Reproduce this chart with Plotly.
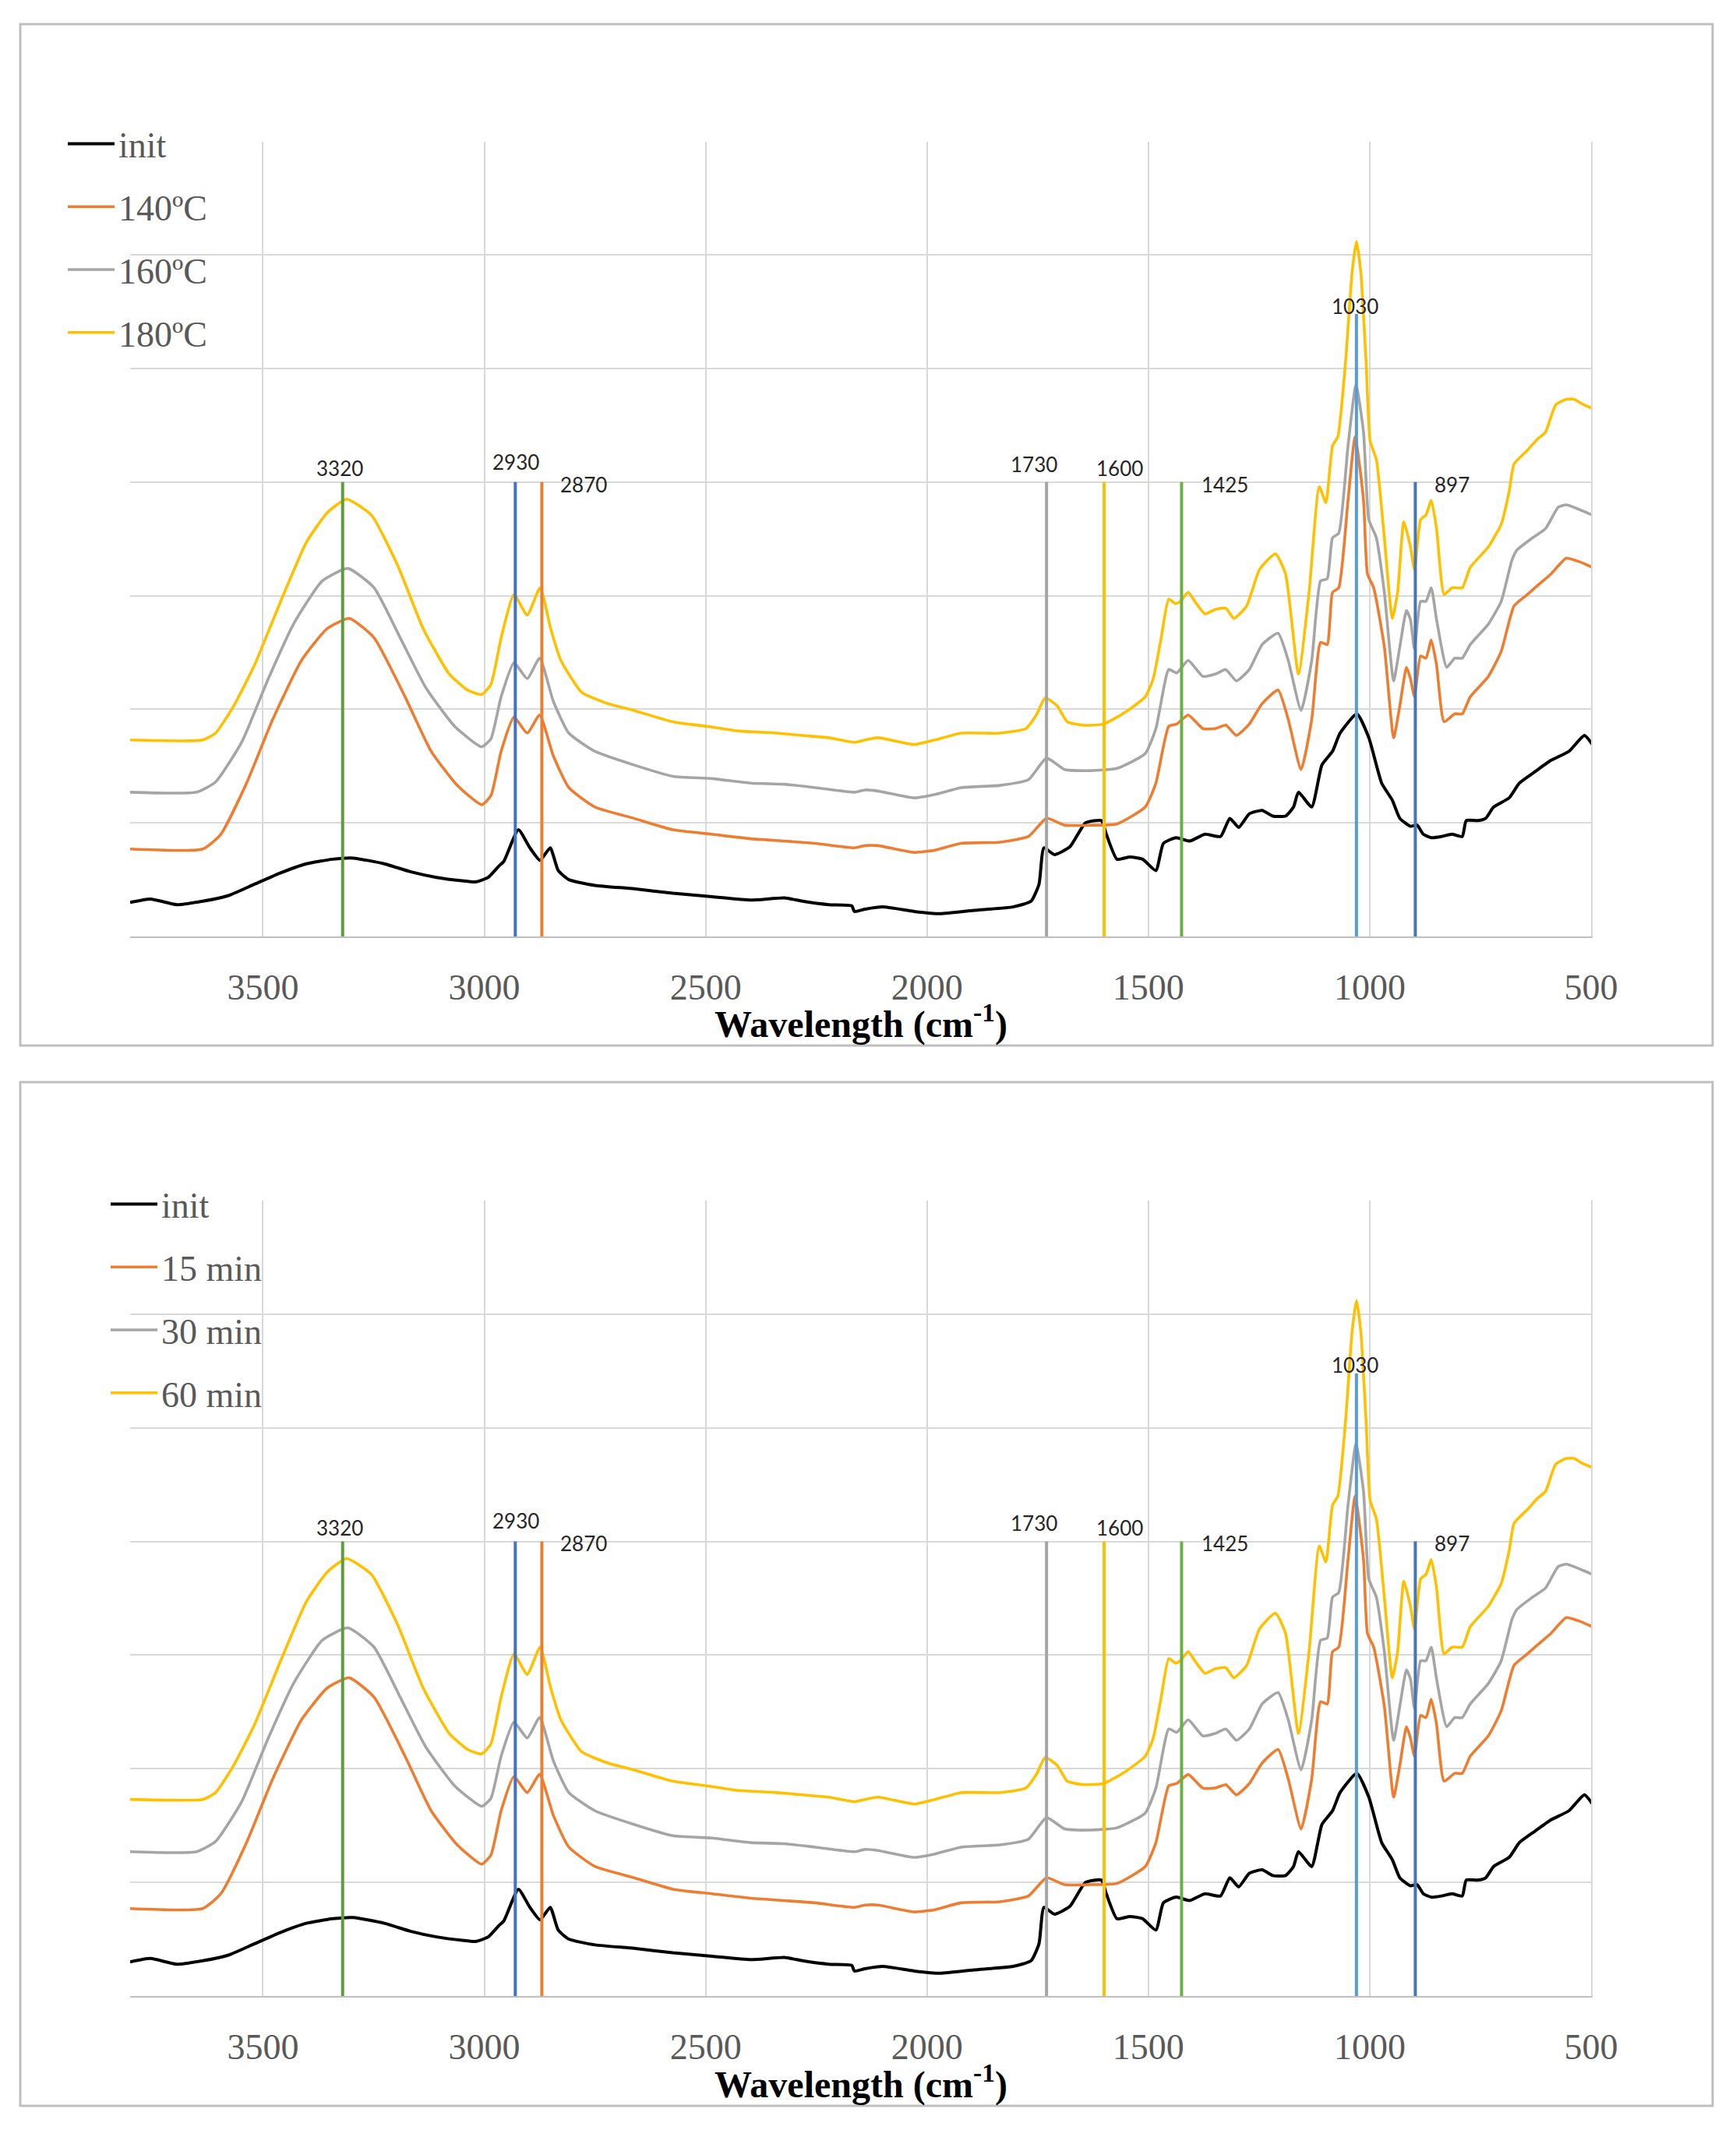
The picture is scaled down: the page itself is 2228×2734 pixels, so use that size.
import plotly.graph_objects as go

# ---------------- data (y in grid units) ----------------
wn_init = [3800, 3754, 3695, 3636, 3578, 3519, 3460, 3402, 3343, 3296, 3226, 3167, 3108, 3050, 3020,
           2991, 2967, 2956, 2923, 2897, 2874, 2851, 2833, 2809, 2750, 2662, 2574, 2485, 2398, 2322,
           2281, 2222, 2170, 2164, 2140, 2100, 2029, 1970, 1894, 1806, 1765, 1747, 1736, 1712, 1677,
           1642, 1606, 1595, 1571, 1542, 1513, 1483, 1466, 1437, 1407, 1372, 1337, 1316, 1296, 1272,
           1243, 1219, 1190, 1172, 1161, 1131, 1108, 1084, 1067, 1029, 1002, 973, 949, 932, 908,
           893, 879, 861, 838, 814, 791, 782, 756, 738, 720, 685, 662, 627, 591, 550, 515, 497]
val_init = [0.30, 0.33, 0.28, 0.31, 0.36, 0.46, 0.56, 0.64, 0.68, 0.69, 0.64, 0.57, 0.52, 0.49, 0.48,
            0.52, 0.62, 0.66, 0.94, 0.78, 0.67, 0.78, 0.58, 0.50, 0.45, 0.42, 0.38, 0.35, 0.32, 0.34,
            0.31, 0.28, 0.27, 0.22, 0.24, 0.26, 0.22, 0.20, 0.23, 0.26, 0.31, 0.46, 0.78, 0.72, 0.79,
            1.00, 1.02, 0.90, 0.68, 0.70, 0.68, 0.58, 0.82, 0.87, 0.84, 0.90, 0.88, 1.04, 0.96, 1.08,
            1.11, 1.06, 1.06, 1.14, 1.27, 1.14, 1.51, 1.63, 1.79, 1.96, 1.75, 1.35, 1.20, 1.04, 0.97,
            0.98, 0.90, 0.87, 0.88, 0.90, 0.88, 1.02, 1.02, 1.04, 1.14, 1.22, 1.35, 1.45, 1.55, 1.63, 1.77, 1.69]

wn_a = [3800, 3636, 3595, 3537, 3478, 3413, 3355, 3305, 3249, 3179, 3120, 3061, 3006, 2985, 2962,
        2933, 2903, 2875, 2844, 2809, 2750, 2662, 2574, 2486, 2398, 2322, 2252, 2164, 2140, 2111,
        2029, 1982, 1923, 1835, 1771, 1730, 1689, 1630, 1571, 1507, 1483, 1454, 1436, 1410, 1377,
        1349, 1325, 1301, 1272, 1243, 1207, 1184, 1155, 1131, 1111, 1096, 1084, 1070, 1049, 1033,
        1014, 1005, 991, 967, 946, 932, 917, 908, 899, 885, 873, 861, 849, 832, 808, 791, 773, 732,
        703, 674, 644, 615, 591, 556, 527, 497]
val_a = [0.77, 0.77, 0.90, 1.35, 1.91, 2.43, 2.71, 2.80, 2.63, 2.11, 1.63, 1.33, 1.16, 1.24, 1.63,
         1.93, 1.79, 1.95, 1.59, 1.31, 1.14, 1.04, 0.94, 0.90, 0.86, 0.84, 0.82, 0.78, 0.80, 0.80,
         0.74, 0.76, 0.82, 0.83, 0.88, 1.04, 0.98, 0.98, 0.99, 1.14, 1.35, 1.85, 1.87, 1.95, 1.83,
         1.83, 1.86, 1.77, 1.87, 2.05, 2.17, 1.91, 1.47, 1.91, 2.59, 2.57, 3.03, 3.07, 3.84, 4.40,
         3.84, 3.19, 3.07, 2.55, 1.75, 2.03, 2.37, 2.27, 2.11, 2.47, 2.45, 2.61, 2.39, 1.89, 1.96, 1.96, 2.11, 2.29,
         2.51, 2.91, 3.01, 3.11, 3.19, 3.33, 3.30, 3.25]

wn_b = [3800, 3650, 3607, 3548, 3490, 3431, 3366, 3308, 3249, 3190, 3132, 3067, 3006, 2985, 2962,
        2933, 2903, 2875, 2844, 2809, 2750, 2662, 2574, 2486, 2398, 2322, 2252, 2164, 2140, 2111,
        2029, 1982, 1923, 1835, 1771, 1730, 1689, 1630, 1571, 1507, 1483, 1454, 1436, 1410, 1377,
        1349, 1325, 1301, 1272, 1243, 1207, 1184, 1155, 1131, 1111, 1096, 1084, 1070, 1049, 1031,
        1014, 1002, 985, 967, 946, 932, 917, 908, 899, 885, 873, 861, 849, 826, 808, 791, 773, 732,
        703, 679, 668, 632, 603, 574, 556, 527, 497]
val_b = [1.27, 1.27, 1.36, 1.71, 2.25, 2.75, 3.13, 3.24, 3.07, 2.63, 2.19, 1.85, 1.67, 1.74, 2.11,
         2.41, 2.27, 2.45, 2.07, 1.79, 1.63, 1.51, 1.41, 1.39, 1.35, 1.34, 1.31, 1.27, 1.29, 1.28,
         1.22, 1.25, 1.31, 1.33, 1.38, 1.57, 1.47, 1.46, 1.48, 1.61, 1.83, 2.35, 2.32, 2.43, 2.29,
         2.31, 2.35, 2.25, 2.35, 2.57, 2.67, 2.43, 1.99, 2.43, 3.13, 3.15, 3.51, 3.55, 4.32, 4.86,
         4.44, 3.67, 3.51, 3.03, 2.25, 2.55, 2.87, 2.79, 2.53, 2.95, 2.95, 3.07, 2.79, 2.37, 2.45, 2.45, 2.57, 2.75,
         2.95, 3.31, 3.40, 3.51, 3.59, 3.78, 3.80, 3.76, 3.71]

wn_c = [3800, 3636, 3607, 3566, 3519, 3460, 3402, 3355, 3311, 3255, 3196, 3138, 3079, 3038, 3006,
        2985, 2962, 2933, 2903, 2874, 2850, 2827, 2780, 2721, 2662, 2574, 2498, 2428, 2340, 2281,
        2222, 2164, 2140, 2111, 2029, 1982, 1923, 1835, 1777, 1753, 1733, 1706, 1683, 1647, 1601,
        1554, 1507, 1489, 1471, 1454, 1439, 1428, 1410, 1395, 1372, 1349, 1325, 1307, 1278, 1249,
        1213, 1190, 1161, 1137, 1114, 1099, 1084, 1072, 1055, 1040, 1030, 1020, 1008, 999, 985,
        967, 949, 937, 923, 908, 899, 885, 873, 861, 849, 832, 814, 791, 773, 732, 703, 685, 674,
        644, 621, 603, 580, 556, 538, 521, 497]
val_c = [1.73, 1.73, 1.79, 2.03, 2.39, 2.95, 3.47, 3.73, 3.85, 3.71, 3.27, 2.71, 2.31, 2.17, 2.13,
         2.22, 2.63, 3.01, 2.83, 3.07, 2.71, 2.43, 2.15, 2.05, 1.99, 1.89, 1.85, 1.81, 1.79, 1.77,
         1.75, 1.71, 1.73, 1.75, 1.69, 1.73, 1.79, 1.79, 1.83, 1.95, 2.10, 2.03, 1.89, 1.86, 1.87,
         1.97, 2.11, 2.27, 2.63, 2.97, 2.93, 2.95, 3.03, 2.95, 2.84, 2.88, 2.89, 2.80, 2.91, 3.23,
         3.37, 3.19, 2.31, 3.03, 3.96, 3.82, 4.32, 4.40, 5.04, 5.84, 6.12, 5.84, 5.04, 4.36, 4.20,
         3.51, 2.80, 3.03, 3.65, 3.43, 3.23, 3.67, 3.71, 3.84, 3.59, 3.01, 3.07, 3.07, 3.25, 3.43, 3.63, 3.92, 4.16,
         4.28, 4.38, 4.44, 4.68, 4.73, 4.73, 4.69, 4.65]

names_top = ["init", "140ºC", "160ºC", "180ºC"]
names_bottom = ["init", "15 min", "30 min", "60 min"]
series_colors = ["#000000", "#ED7D31", "#A5A5A5", "#FFC000"]

band_pos = [3320, 2930, 2870, 1730, 1600, 1425, 1030, 897]
band_top = [4.0, 4.0, 4.0, 4.0, 4.0, 4.0, 5.48, 4.0]
band_colors = ["#5E9C3F", "#4472C4", "#ED7D31", "#A5A5A5", "#FFC000", "#70AD47", "#5B9BD5", "#4677B3"]
band_label = ["3320", "2930", "2870", "1730", "1600", "1425", "1030", "897"]
label_x = [3326, 2929, 2775, 1758, 1564, 1328, 1034, 814]
label_y = [4.12, 4.18, 3.98, 4.16, 4.12, 3.98, 5.55, 3.98]

x_ticks = [3500, 3000, 2500, 2000, 1500, 1000, 500]
x_title = "<b>Wavelength (cm<sup>-1</sup>)</b>"

# ---------------- figure ----------------
W, H = 2228, 2734
series_x = [wn_init, wn_a, wn_b, wn_c]
series_y = [val_init, val_a, val_b, val_c]

fig = go.Figure()
for panel, (names, xa, ya, leg) in enumerate([(names_top, "x", "y", "legend"),
                                             (names_bottom, "x2", "y2", "legend2")]):
    for i in range(4):
        fig.add_trace(go.Scatter(
            x=series_x[i], y=series_y[i], name=names[i], mode="lines",
            line=dict(color=series_colors[i], width=4 if i == 0 else 3.6, shape="spline", smoothing=0.5),
            xaxis=xa, yaxis=ya, legend=leg, legendgroup=f"{leg}{i}",
        ))

shapes = []
annotations = []
for xa, ya in [("x", "y"), ("x2", "y2")]:
    for b, t, c in zip(band_pos, band_top, band_colors):
        shapes.append(dict(type="line", xref=xa, yref=ya, x0=b, x1=b, y0=0, y1=t,
                           line=dict(color=c, width=4), layer="above"))
    for lx, ly, txt in zip(label_x, label_y, band_label):
        annotations.append(dict(x=lx, y=ly, xref=xa, yref=ya, text=txt, showarrow=False,
                                font=dict(family="Lato", size=26, color="#262626")))

# axis titles (placed as paper annotations under the tick labels)
for yc in [1311, 2672]:
    annotations.append(dict(x=(167 + 2042) / 2 / W, y=1 - yc / H, xref="paper", yref="paper",
                            text=x_title, showarrow=False, xanchor="center", yanchor="middle",
                            font=dict(family="Liberation Serif", size=48, color="#000000")))

# outer frames of the two panels
for top, bot in [(31, 1342), (1389, 2703)]:
    shapes.append(dict(type="rect", xref="paper", yref="paper",
                       x0=26 / W, x1=2198 / W, y0=1 - bot / H, y1=1 - top / H,
                       line=dict(color="#BFBFBF", width=3), layer="below"))

xdom = [167 / W, 2042 / W]
ydom_top = [1 - 1202 / H, 1 - 181.5 / H]
ydom_bot = [1 - 2562 / H, 1 - 1541 / H]

tickfont = dict(family="Liberation Serif", size=46, color="#595959")

def xaxis(anchor):
    return dict(domain=xdom, anchor=anchor, range=[3800, 500], tickmode="array", tickvals=x_ticks,
                showgrid=True, gridcolor="#D9D9D9", gridwidth=2, zeroline=False,
                showline=True, linecolor="#BFBFBF", linewidth=2, ticks="",
                tickfont=tickfont, ticklabelstandoff=24, automargin=False)

def yaxis(anchor, dom):
    return dict(domain=dom, anchor=anchor, range=[0, 7], dtick=1, showticklabels=False,
                showgrid=True, gridcolor="#D9D9D9", gridwidth=2, zeroline=False,
                showline=True, linecolor="#D9D9D9", linewidth=2, side="right", ticks="",
                automargin=False)

legfont = dict(family="Liberation Serif", size=46, color="#595959")

fig.update_layout(
    width=W, height=H, margin=dict(l=0, r=0, t=0, b=0, pad=0, autoexpand=False),
    paper_bgcolor="white", plot_bgcolor="white",
    xaxis=xaxis("y"), yaxis=yaxis("x", ydom_top),
    xaxis2=xaxis("y2"), yaxis2=yaxis("x2", ydom_bot),
    legend=dict(x=82 / W, y=1 - 148 / H, xanchor="left", yanchor="top", font=legfont,
                bgcolor="rgba(0,0,0,0)", tracegroupgap=18, itemwidth=60),
    legend2=dict(x=137 / W, y=1 - 1509 / H, xanchor="left", yanchor="top", font=legfont,
                 bgcolor="rgba(0,0,0,0)", tracegroupgap=18, itemwidth=60),
    shapes=shapes, annotations=annotations, showlegend=True,
)

fig.write_html("out.html", config={"displayModeBar": False},
               post_script="document.body.style.margin='0px';document.body.style.overflow='hidden';")
